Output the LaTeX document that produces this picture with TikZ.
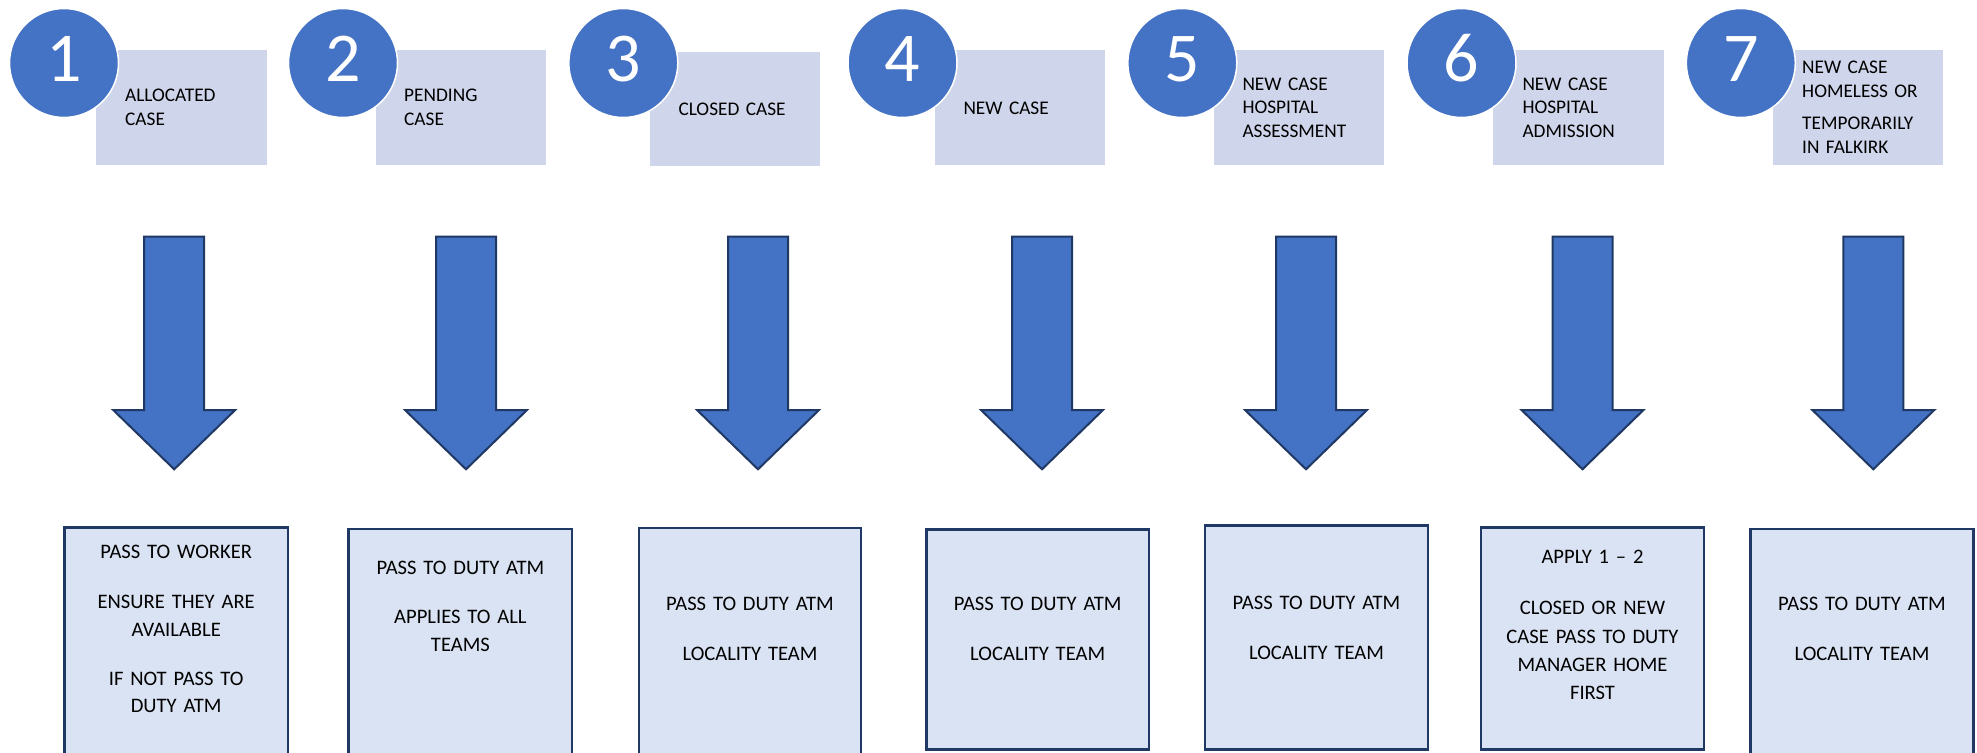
\documentclass[tikz,border=0pt]{standalone}
\usepackage{fontspec}
\setmainfont{Carlito}
\usetikzlibrary{fit}
\definecolor{badgeblue}{HTML}{4472C4}
\definecolor{navy}{HTML}{203864}
\definecolor{tagfill}{HTML}{CFD5EA}
\definecolor{boxfill}{HTML}{DAE3F3}

% block arrow pointing down: #1 name of its top coordinate, #2 centre x
\newcommand{\blockarrowat}[2]{%
  \coordinate (#1) at (#2,236.7);
  \draw[blockarrow] (#2-30,236.7) -- (#2+30,236.7) -- (#2+30,410) -- (#2+61,410)
    -- (#2,469.3) -- (#2-61,410) -- (#2-30,410) -- cycle;}

\begin{document}
\begin{tikzpicture}[x=1pt,y=-1pt,
  badge/.style={circle, fill=badgeblue, draw=white, line width=1.5pt,
    minimum size=109pt, inner sep=0pt},
  numtxt/.style={text=white, anchor=base, inner sep=0pt,
    font=\fontsize{70}{80}\selectfont},
  tag/.style={fill=tagfill, draw=none, inner sep=0pt},
  tagtxt/.style={anchor=base west, inner sep=0pt, text width=160pt, align=left,
    font=\fontsize{19.3}{23.6}\selectfont},
  outbox/.style={fill=boxfill, draw=navy, line width=2.7pt, inner sep=0pt},
  outtxt/.style={anchor=base, inner sep=0pt, text width=215pt, align=center,
    font=\fontsize{20.6}{27.7}\selectfont},
  blockarrow/.style={fill=badgeblue, draw=navy, line width=2pt, line join=miter}
]
\useasboundingbox[fill=white] (0,0) rectangle (1977,752);

% ---- labels along the top ----
\node[tag, fit={(96,50)(266.7,165)}] (r1) {};
\node[tag, fit={(375.7,50)(546,165)}] (r2) {};
\node[tag, fit={(650,51.7)(820,166)}] (r3) {};
\node[tag, fit={(935,50)(1105,165)}] (r4) {};
\node[tag, fit={(1214,50)(1384.3,165)}] (r5) {};
\node[tag, fit={(1493,50)(1663.7,165)}] (r6) {};
\node[tag, fit={(1773,50)(1943,165)}] (r7) {};

\node[tagtxt] (t1) at (125,101.7) {ALLOCATED\\CASE};
\node[tagtxt] (t2) at (404,101.7) {PENDING\\CASE};
\node[tagtxt] (t3) at (678.3,115) {CLOSED CASE};
\node[tagtxt] (t4) at (963.3,114.3) {NEW CASE};
\node[tagtxt] (t5) at (1242.3,90) {NEW CASE\\HOSPITAL\\ASSESSMENT};
\node[tagtxt] (t6) at (1522.3,90) {NEW CASE\\HOSPITAL\\ADMISSION};
\node[tagtxt] (t7) at (1802,74) {NEW CASE\\HOMELESS OR\\[8.7pt]TEMPORARILY\\IN FALKIRK};

% ---- numbered badges ----
\foreach \n/\cx in {1/64,2/343,3/623.3,4/902.5,5/1182.3,6/1461.5,7/1740.8}{
  \node[badge] (c\n) at (\cx,63) {};
  \node[numtxt] (n\n) at (\cx,81.7) {\n};
}

% ---- arrows ----
\blockarrowat{a1}{174.2}
\blockarrowat{a2}{466}
\blockarrowat{a3}{758}
\blockarrowat{a4}{1042}
\blockarrowat{a5}{1306}
\blockarrowat{a6}{1582.5}
\blockarrowat{a7}{1873.3}

% ---- outcome boxes ----
\node[outbox, fit={(64.5,527.3)(288,760)}] (b1) {};
\node[outbox, fit={(348.8,529)(572,760)}] (b2) {};
\node[outbox, fit={(639,528)(861,760)}] (b3) {};
\node[outbox, fit={(926.5,529.5)(1149,749.5)}] (b4) {};
\node[outbox, fit={(1205,525.5)(1428,749.5)}] (b5) {};
\node[outbox, fit={(1481,527.5)(1704,749.5)}] (b6) {};
\node[outbox, fit={(1750.5,529)(1973.5,760)}] (b7) {};

\node[outtxt] (o1) at (176.2,558.3) {PASS TO WORKER\\[22.3pt]ENSURE THEY ARE\\AVAILABLE\\[21.3pt]IF NOT PASS TO\\DUTY ATM};
\node[outtxt] (o2) at (460.4,574) {PASS TO DUTY ATM\\[21.6pt]APPLIES TO ALL\\TEAMS};
\node[outtxt] (o3) at (750,610) {PASS TO DUTY ATM\\[22.3pt]LOCALITY TEAM};
\node[outtxt] (o4) at (1037.7,610) {PASS TO DUTY ATM\\[22.3pt]LOCALITY TEAM};
\node[outtxt] (o5) at (1316.5,609.3) {PASS TO DUTY ATM\\[22.3pt]LOCALITY TEAM};
\node[outtxt, font=\fontsize{20.6}{28.3}\selectfont] (o6) at (1592.5,563)
  {APPLY 1 – 2\\[23.5pt]CLOSED OR NEW\\CASE PASS TO DUTY\\MANAGER HOME\\FIRST};
\node[outtxt] (o7) at (1862,610) {PASS TO DUTY ATM\\[22.3pt]LOCALITY TEAM};
\end{tikzpicture}
\end{document}
